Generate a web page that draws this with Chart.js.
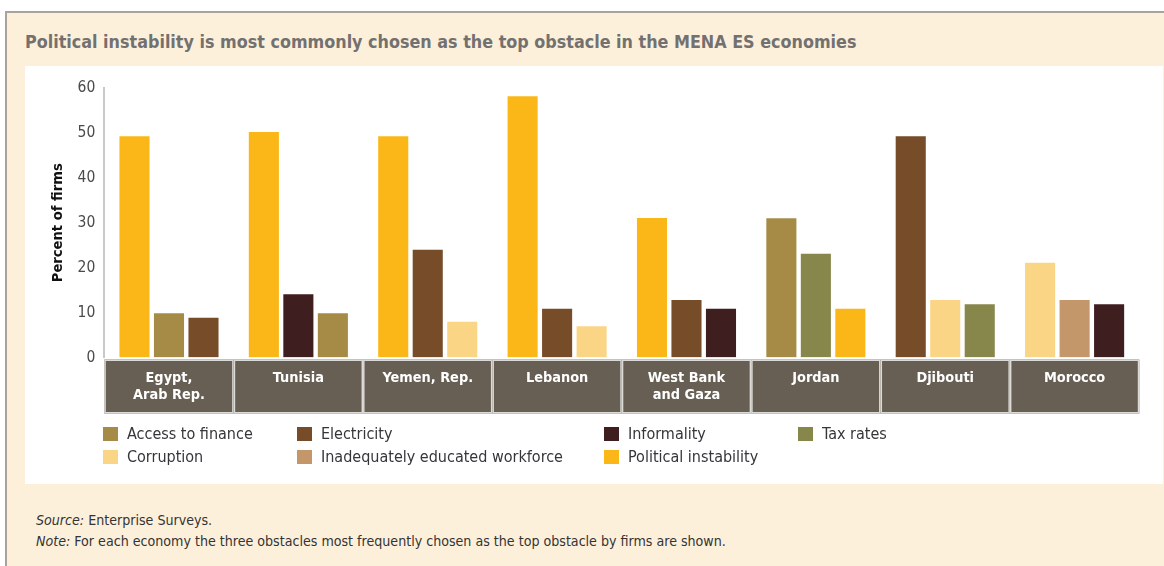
<!DOCTYPE html>
<html>
<head>
<meta charset="utf-8">
<script src="https://cdn.jsdelivr.net/npm/chart.js@4/dist/chart.umd.min.js"></script>
<style>
  html, body { margin:0; padding:0; background:#fff; width:1164px; height:566px; overflow:hidden; }
  body { position:relative; font-family:'Liberation Sans Narrow','DejaVu Sans Condensed','Arial Narrow',sans-serif; }
  #frame { position:absolute; left:5px; top:11px; width:1200px; height:600px; border-top:2px solid #a8a39c; border-left:2px solid #a8a39c; background:#fdf0db; }
  #title { position:absolute; left:25px; top:31px; font-size:17.8px; font-weight:bold; color:#737170; white-space:nowrap; }
  #panel { position:absolute; left:25px; top:66px; width:1138px; height:418px; background:#fff; }
  #chart { position:absolute; left:0; top:0; }
  #legend { position:absolute; left:78px; top:359px; display:grid; grid-template-columns:194px 307px 194px 200px; row-gap:6px; font-size:16px; color:#35353a; }
  .li { display:flex; align-items:center; height:17px; white-space:nowrap; }
  .sw { width:15px; height:14px; margin-right:9px; flex:none; }
  #notes { position:absolute; left:36px; top:510px; font-size:14.1px; color:#333; line-height:21px; white-space:nowrap; }
</style>
</head>
<body>
<div id="frame"></div>
<div id="title">Political instability is most commonly chosen as the top obstacle in the MENA ES economies</div>
<div id="panel">
  <canvas id="chart" width="1138" height="418"></canvas>
  <div id="legend"></div>
</div>
<div id="notes"><i>Source:</i> Enterprise Surveys.<br><i>Note:</i> For each economy the three obstacles most frequently chosen as the top obstacle by firms are shown.</div>
<script>
// ---- data ----
const categories = [["Egypt,","Arab Rep."], "Tunisia", "Yemen, Rep.", "Lebanon", ["West Bank","and Gaza"], "Jordan", "Djibouti", "Morocco"];
const obstacles = ["Access to finance", "Electricity", "Informality", "Tax rates", "Corruption", "Inadequately educated workforce", "Political instability"];
const obstacleColors = ["#a68b46", "#764c29", "#3f1e20", "#88874b", "#fbd586", "#c4976b", "#fbb717"];

const firstObstacle  = ["Political instability", "Political instability", "Political instability", "Political instability", "Political instability", "Access to finance", "Electricity", "Corruption"];
const firstValues    = [49.5, 50.4, 49.5, 58.4, 31.3, 31.2, 49.5, 21.3];
const secondObstacle = ["Access to finance", "Informality", "Electricity", "Electricity", "Electricity", "Tax rates", "Corruption", "Inadequately educated workforce"];
const secondValues   = [10.1, 14.3, 24.2, 11.1, 13.0, 23.3, 13.0, 13.0];
const thirdObstacle  = ["Electricity", "Access to finance", "Corruption", "Corruption", "Informality", "Political instability", "Tax rates", "Informality"];
const thirdValues    = [9.1, 10.1, 8.2, 7.2, 11.1, 11.1, 12.1, 12.1];

const yTicks = [0, 10, 20, 30, 40, 50, 60];

const colorOf = name => obstacleColors[obstacles.indexOf(name)];
const NARROW = "'Liberation Sans Narrow','DejaVu Sans Condensed','Arial Narrow',sans-serif";

function ds(label, values, obs) {
  return {
    label, data: values,
    backgroundColor: obs.map(colorOf),
    borderColor: 'rgba(255,255,255,0.3)',
    borderWidth: 1,
    categoryPercentage: 0.80,
    barPercentage: 0.93
  };
}

const boxPlugin = {
  id: 'catBoxes',
  beforeDraw(chart) {
    const x = chart.scales.x, ctx = chart.ctx;
    const n = categories.length;
    const w = (x.right - x.left) / n;
    const top = chart.chartArea.bottom + 2, bottom = top + 54;
    ctx.save();
    for (let i = 0; i < n; i++) {
      const c = x.getPixelForValue(i);
      const l = c - w / 2;
      ctx.fillStyle = '#675f54';
      ctx.fillRect(l, top, w, bottom - top);
      ctx.strokeStyle = '#dcdad6';
      ctx.lineWidth = 1.5;
      ctx.strokeRect(l + 0.75, top + 0.75, w - 1.5, bottom - top - 1.5);
    }
    ctx.restore();
  }
};

new Chart(document.getElementById('chart'), {
  type: 'bar',
  data: {
    labels: categories,
    datasets: [
      ds('First', firstValues, firstObstacle),
      ds('Second', secondValues, secondObstacle),
      ds('Third', thirdValues, thirdObstacle)
    ]
  },
  options: {
    responsive: false,
    animation: false,
    layout: { padding: { left: 0, top: 22, right: 23.7, bottom: 70.5 } },
    plugins: { legend: { display: false }, tooltip: { enabled: false } },
    scales: {
      x: {
        grid: { display: false, drawTicks: false },
        border: { display: false },
        ticks: { color: '#ffffff', font: { family: NARROW, size: 14.4, weight: 'bold' }, padding: 12, maxRotation: 0, autoSkip: false },
        afterFit(s) { s.height = 56; }
      },
      y: {
        min: 0, max: 60,
        afterBuildTicks(s) { s.ticks = yTicks.map(v => ({ value: v })); },
        grid: { display: false, drawTicks: false },
        border: { display: true, color: '#c9c9c9', width: 2 },
        ticks: { color: '#4a4a4a', font: { family: NARROW, size: 15.5 }, padding: 9 },
        title: { display: true, text: 'Percent of firms', color: '#111', font: { family: NARROW, size: 14.6, weight: 'bold' }, padding: { top: 24, bottom: 0 } },
        afterFit(s) { s.width = 79.3; }
      }
    }
  },
  plugins: [boxPlugin]
});

// HTML legend built from the obstacle arrays
const leg = document.getElementById('legend');
obstacles.forEach((name, i) => {
  const d = document.createElement('div');
  d.className = 'li';
  d.innerHTML = '<span class="sw" style="background:' + obstacleColors[i] + '"></span><span>' + name + '</span>';
  leg.appendChild(d);
});
</script>
</body>
</html>
